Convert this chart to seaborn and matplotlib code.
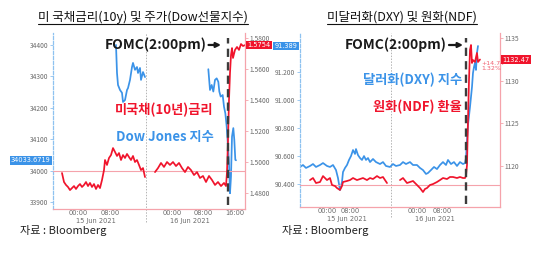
import matplotlib
matplotlib.use("Agg")
import matplotlib.pyplot as plt
import matplotlib.transforms as mtransforms
from matplotlib.lines import Line2D
import pandas as pd
import seaborn as sns

# ---------------- text ----------------
left_title = "미 국채금리(10y) 및 주가(Dow선물지수)"
right_title = "미달러화(DXY) 및 원화(NDF)"
source_text = "자료 : Bloomberg"
fomc_text = "FOMC(2:00pm)"
ust_label = "미국채(10년)금리"
dow_label = "Dow Jones 지수"
dxy_label = "달러화(DXY) 지수"
krw_label = "원화(NDF) 환율"

# ---------------- left panel data (chart hours, Bloomberg compressed time) ----------------
ust_t1 = [-4, -3.5, -3, -2.5, -2, -1.5, -1, -0.5, 0, 0.5, 1, 1.5, 2, 2.5, 3, 3.5, 4, 4.5, 5, 5.5, 6, 6.5,
          6.75, 7.25, 7.75, 8.25, 8.75, 9.25, 9.75, 10.25, 10.75, 11.25, 11.75, 12.25, 12.75, 13.25, 13.75,
          14.25, 14.75, 15.25, 15.75, 16.25, 16.75]
ust_v1 = [1.4929, 1.4871, 1.4852, 1.4839, 1.4819, 1.4832, 1.4845, 1.4826, 1.4845, 1.4858, 1.4839, 1.4852,
          1.4871, 1.4845, 1.4865, 1.4839, 1.4858, 1.4826, 1.4852, 1.4832, 1.4884, 1.4948,
          1.5013, 1.4981, 1.5026, 1.5045, 1.5090, 1.5065, 1.5039, 1.5058, 1.5013, 1.5045, 1.5026, 1.5052,
          1.5032, 1.5013, 1.5039, 1.5000, 1.5013, 1.4981, 1.4948, 1.4961, 1.4903]
ust_t2 = [19.25, 20, 20.75, 21.5, 22.25, 23, 23.75, 24.5, 25.25, 26, 26.75, 27.5, 28.25, 29, 29.75, 30.5,
          31.25, 32, 32.75, 33.5, 34.25, 35, 35.75, 36.5, 37, 37.25, 37.5, 37.75, 38, 38.25, 38.5, 38.75,
          39.25, 39.75, 40.25, 40.75, 41.25, 41.75]
ust_v2 = [1.4935, 1.4961, 1.4994, 1.4968, 1.5000, 1.4981, 1.5000, 1.4974, 1.4994, 1.4961, 1.4935, 1.4968,
          1.4948, 1.4916, 1.4935, 1.4897, 1.4910, 1.4871, 1.4910, 1.4884, 1.4852, 1.4871, 1.4845, 1.4865,
          1.4845, 1.4935, 1.5142, 1.5400, 1.5574, 1.5690, 1.5735, 1.5671, 1.5723, 1.5742, 1.5723, 1.5761,
          1.5748, 1.5754]
dow_t1 = [9.5, 9.75, 10, 10.5, 11, 11.25, 11.75, 12.25, 12.5, 13, 13.5, 13.75, 14.25, 14.75, 15, 15.5,
          15.75, 16.25, 16.75]
dow_v1 = [34400, 34311, 34273, 34257, 34248, 34219, 34225, 34257, 34263, 34289, 34330, 34343, 34321,
          34330, 34311, 34327, 34289, 34314, 34298]
dow_t2 = [32.58, 33, 33.42, 33.83, 34.25, 34.67, 35.08, 35.33, 35.67, 36.17, 36.5, 36.83, 37.17, 37.5,
          37.75, 38, 38.25, 38.5, 38.83, 39.08, 39.33, 39.5]
dow_v2 = [34323, 34257, 34273, 34252, 34289, 34294, 34283, 34252, 34236, 34241, 34204, 34183, 34141,
          34077, 34024, 33929, 33982, 34109, 34136, 34098, 34035, 34033.67]
ust_prev_close = 1.4942
dow_last = 34033.6719
ust_last = 1.5754

left_xticks = [0, 8, 23.5, 31.25, 39.25]
left_xticklabels = ["00:00", "08:00", "00:00", "08:00", "16:00"]
left_dates = ["15 Jun 2021", "16 Jun 2021"]
left_date_pos = [4.5, 28]
left_day_sep = 17
left_fomc = 37.5
dow_ticks = [33900, 34000, 34100, 34200, 34300, 34400]
ust_ticks = [1.48, 1.50, 1.52, 1.54, 1.56, 1.58]

# ---------------- right panel data ----------------
krw_t1 = [-5.86, -4.83, -3.79, -2.41, -1.38, 0, 1.03, 1.72, 2.76, 3.45, 4.48, 5.17, 5.52, 6.9, 7.93, 8.97,
          10.34, 11.38, 12.41, 13.79, 14.83, 15.86, 17.24, 18.28, 19.31, 20, 20.69]
krw_v1 = [1118.29, 1118.53, 1117.94, 1118.06, 1118.76, 1118.29, 1118.53, 1117.71, 1117.59, 1117.35, 1117.12,
          1117.59, 1118.06, 1118.18, 1118.29, 1118.53, 1118.29, 1118.41, 1118.53, 1118.29, 1118.53, 1118.41,
          1118.76, 1118.53, 1118.65, 1118.29, 1117.94]
krw_t2 = [25.17, 26.21, 27.59, 28.62, 29.66, 31.03, 32.07, 33.10, 33.79, 34.48, 35.52, 36.55, 37.93, 38.97,
          40.0, 41.38, 42.41, 43.45, 44.83, 45.86, 46.9, 47.59, 47.93, 48.28, 48.62, 48.97, 49.31, 49.66,
          50.0, 50.34, 51.03, 51.72, 52.07, 52.76]
krw_v2 = [1118.29, 1118.53, 1117.94, 1118.06, 1118.18, 1117.71, 1117.35, 1116.88, 1117.24, 1117.35, 1117.71,
          1117.82, 1118.06, 1118.29, 1118.53, 1118.41, 1118.65, 1118.65, 1118.53, 1118.65, 1118.53, 1118.53,
          1118.76, 1120.06, 1125.35, 1130.06, 1133.59, 1134.18, 1132.06, 1132.41, 1132.18, 1133.24,
          1132.18, 1132.47]
dxy_t = [-9.31, -8.28, -7.24, -5.86, -4.83, -3.79, -2.41, -1.38, 0, 1.03, 2.07, 3.10, 3.79, 4.48, 5.17,
         5.52, 6.21, 6.90, 7.59, 8.28, 8.97, 9.66, 10.0, 10.69, 11.38, 12.07, 12.76, 13.45, 14.14, 14.83,
         15.86, 16.90, 18.28, 19.31, 20.34, 21.72, 22.76, 23.79, 25.17, 26.21, 27.24, 28.62, 29.66, 31.03,
         32.07, 33.10, 34.14, 34.83, 35.86, 36.90, 37.93, 38.97, 40.0, 41.03, 41.72, 42.76, 43.79, 44.83,
         45.86, 46.90, 47.59, 47.93, 48.28, 48.62, 49.31, 50.0, 50.34, 50.69, 51.03, 51.38, 51.72, 52.07]
dxy_v = [90.525, 90.539, 90.518, 90.532, 90.546, 90.525, 90.539, 90.553, 90.532, 90.525, 90.539, 90.503,
         90.446, 90.360, 90.418, 90.489, 90.518, 90.539, 90.575, 90.603, 90.646, 90.618, 90.653, 90.610,
         90.589, 90.575, 90.603, 90.575, 90.589, 90.560, 90.582, 90.560, 90.546, 90.560, 90.532, 90.525,
         90.546, 90.532, 90.539, 90.560, 90.546, 90.560, 90.539, 90.539, 90.518, 90.503, 90.475, 90.482,
         90.503, 90.525, 90.510, 90.539, 90.560, 90.539, 90.575, 90.546, 90.560, 90.532, 90.560, 90.546,
         90.553, 90.589, 90.718, 90.825, 90.953, 91.096, 91.196, 91.239, 91.268, 91.218, 91.339, 91.389]
krw_prev_close = 1117.73
krw_last = 1132.47
krw_change = "+14.74"
krw_change_pct = "1.32%"
dxy_last = 91.389

right_xticks = [0, 7.9, 31.0, 39.7]
right_xticklabels = ["00:00", "08:00", "00:00", "08:00"]
right_dates = ["15 Jun 2021", "16 Jun 2021"]
right_date_pos = [6.9, 37.2]
right_day_sep = 22.07
right_fomc = 47.9
dxy_ticks = [90.4, 90.6, 90.8, 91.0, 91.2]
krw_ticks = [1120, 1125, 1130, 1135]

# ---------------- style ----------------
sns.set_theme(style="white")
plt.rcParams["font.family"] = ["Noto Sans CJK KR", "DejaVu Sans"]
plt.rcParams["axes.unicode_minus"] = False

RED = "#f0142c"
BLUE = "#3b93e8"
PINK = "#f5a3ab"
LBLUE = "#8ec2f0"
GRAY = "#6a6a6a"

W, H = 540, 256
fig = plt.figure(figsize=(W / 100, H / 100), dpi=100)
fig.patch.set_facecolor("white")

axL = fig.add_axes([53 / W, 1 - 209 / H, 192 / W, 176 / H])
axL2 = axL.twinx()
axR = fig.add_axes([300 / W, 1 - 207 / H, 200 / W, 174 / H])
axR2 = axR.twinx()


def draw(ax, t, v, color):
    df = pd.DataFrame({"t": t, "v": v})
    sns.lineplot(data=df, x="t", y="v", ax=ax, color=color, linewidth=1.25,
                 estimator=None, sort=False)


def style(ax, ax2, xlim, ylim_l, ylim_r, ticks_l, ticks_r, fmt_l, fmt_r,
          xticks, xticklabels, dates, date_pos, date_y, sep, fomc, sep_ymin):
    ax.set_xlim(*xlim)
    ax.set_ylim(*ylim_l)
    ax2.set_ylim(*ylim_r)
    for a in (ax, ax2):
        a.set_xlabel("")
        a.set_ylabel("")
        a.spines["top"].set_visible(False)
        a.grid(False)
    ax.spines["left"].set_color(LBLUE)
    ax.spines["left"].set_linestyle((0, (2.5, 1.5)))
    ax.spines["left"].set_linewidth(0.9)
    ax.spines["right"].set_visible(False)
    ax.spines["bottom"].set_color(PINK)
    ax.spines["bottom"].set_linewidth(0.9)
    ax2.spines["left"].set_visible(False)
    ax2.spines["bottom"].set_visible(False)
    ax2.spines["right"].set_color(PINK)
    ax2.spines["right"].set_linewidth(0.9)

    ax.set_yticks(ticks_l)
    ax.set_yticklabels([fmt_l.format(v) for v in ticks_l])
    ax2.set_yticks(ticks_r)
    ax2.set_yticklabels([fmt_r.format(v) for v in ticks_r])
    ax.tick_params(axis="y", left=True, length=2, width=0.6, color=LBLUE,
                   labelsize=4.8, labelcolor=GRAY, pad=1.5)
    ax2.tick_params(axis="y", right=True, length=2, width=0.6, color=PINK,
                    labelsize=4.8, labelcolor=GRAY, pad=1.5)
    ax.set_xticks(xticks)
    ax.set_xticklabels(xticklabels)
    ax.tick_params(axis="x", bottom=False, length=0, labelsize=4.8, labelcolor=GRAY, pad=1.0)
    for lab in ax.get_xticklabels():
        lab.set_family(["DejaVu Sans"])

    tr = mtransforms.blended_transform_factory(ax.transData, ax.transAxes)
    for d, p in zip(dates, date_pos):
        ax.text(p, date_y, d, transform=tr, ha="center", va="center",
                fontsize=4.8, color=GRAY, family=["DejaVu Sans"])
    ax.axvline(sep, ymin=sep_ymin, ymax=1.0, color="#b4b4b4",
               linestyle=(0, (1.5, 1.5)), linewidth=0.7, clip_on=False, zorder=0)
    ax2.axvline(fomc, ymin=0.02, ymax=0.97, color="#3c3c3c",
                linestyle=(0, (3.5, 2.2)), linewidth=1.7, zorder=5)


# ---- left panel ----
draw(axL, dow_t1, dow_v1, BLUE)
draw(axL, dow_t2, dow_v2, BLUE)
axL2.axhline(ust_prev_close, color=PINK, linewidth=0.8, zorder=1)
draw(axL2, ust_t1, ust_v1, RED)
draw(axL2, ust_t2, ust_v2, RED)
style(axL, axL2, (-6.25, 41.75), (33879, 34438), (1.4697, 1.5832), dow_ticks, ust_ticks,
      "{:.0f}", "{:.4f}", left_xticks, left_xticklabels, left_dates, left_date_pos, -0.068,
      left_day_sep, left_fomc, -0.075)

# ---- right panel ----
draw(axR, dxy_t, dxy_v, BLUE)
axR2.axhline(krw_prev_close, color=PINK, linewidth=0.8, zorder=1)
draw(axR2, krw_t1, krw_v1, RED)
draw(axR2, krw_t2, krw_v2, RED)
style(axR, axR2, (-9.31, 59.66), (90.239, 91.482), (1115.12, 1135.59), dxy_ticks, krw_ticks,
      "{:.3f}", "{:.0f}", right_xticks, right_xticklabels, right_dates, right_date_pos, -0.07,
      right_day_sep, right_fomc, -0.06)

# ---- value tags ----
def tag(ax, x, y, s, fc, ha):
    tr = mtransforms.blended_transform_factory(ax.transAxes, ax.transData)
    ax.text(x, y, s, transform=tr, ha=ha, va="center", fontsize=4.8, color="white",
            family=["DejaVu Sans"], zorder=10,
            bbox=dict(boxstyle="square,pad=0.2", fc=fc, ec="none"))

tag(axL, -0.012, dow_last, f"{dow_last:.4f}", BLUE, "right")
tag(axL2, 1.012, ust_last, f"{ust_last:.4f}", RED, "left")
tag(axR, -0.012, dxy_last, f"{dxy_last:.3f}", BLUE, "right")
tag(axR2, 1.012, krw_last, f"{krw_last:.2f}", RED, "left")
axR2.text(53.3, 1131.7, krw_change + "\n" + krw_change_pct, fontsize=4.5, color="#f06070",
          ha="left", va="center", linespacing=1.1, family=["DejaVu Sans"])

# ---- annotations ----
def fomc_note(ax, x0, y, ax_tail, ax_head):
    ax.text(x0, y, fomc_text, transform=ax.transAxes, ha="left", va="center",
            fontsize=10, fontweight="bold", color="#1a1a1a")
    ax.annotate("", xy=(ax_head, y), xytext=(ax_tail, y), xycoords="axes fraction",
                arrowprops=dict(arrowstyle="-|>", color="#1a1a1a", lw=1.6, mutation_scale=7,
                                shrinkA=0, shrinkB=0))

fomc_note(axL2, 0.27, 0.932, 0.81, 0.875)
fomc_note(axR2, 0.225, 0.931, 0.745, 0.815)

axL2.text(0.835, 0.5625, ust_label, transform=axL2.transAxes, ha="right", va="center",
          fontsize=9.5, fontweight="bold", color=RED)
axL2.text(0.835, 0.409, dow_label, transform=axL2.transAxes, ha="right", va="center",
          fontsize=9.5, fontweight="bold", color=BLUE)
axR2.text(0.81, 0.73, dxy_label, transform=axR2.transAxes, ha="right", va="center",
          fontsize=9.5, fontweight="bold", color=BLUE)
axR2.text(0.81, 0.575, krw_label, transform=axR2.transAxes, ha="right", va="center",
          fontsize=9.5, fontweight="bold", color=RED)

# ---- titles (underlined) and source ----
t1 = fig.text(143 / W, 1 - 17 / H, left_title, ha="center", va="center", fontsize=9, color="#111111")
t2 = fig.text(402 / W, 1 - 17 / H, right_title, ha="center", va="center", fontsize=9, color="#111111")
fig.text(20 / W, 1 - 231 / H, source_text, ha="left", va="center", fontsize=8, color="#222222")
fig.text(282 / W, 1 - 231 / H, source_text, ha="left", va="center", fontsize=8, color="#222222")

fig.canvas.draw()
for t in (t1, t2):
    bb = t.get_window_extent()
    yline = (bb.y0 - 0.5) / H
    fig.add_artist(Line2D([bb.x0 / W, bb.x1 / W], [yline, yline], transform=fig.transFigure,
                          color="#111111", linewidth=0.8))

fig.savefig("out.png", dpi=100, facecolor="white")
